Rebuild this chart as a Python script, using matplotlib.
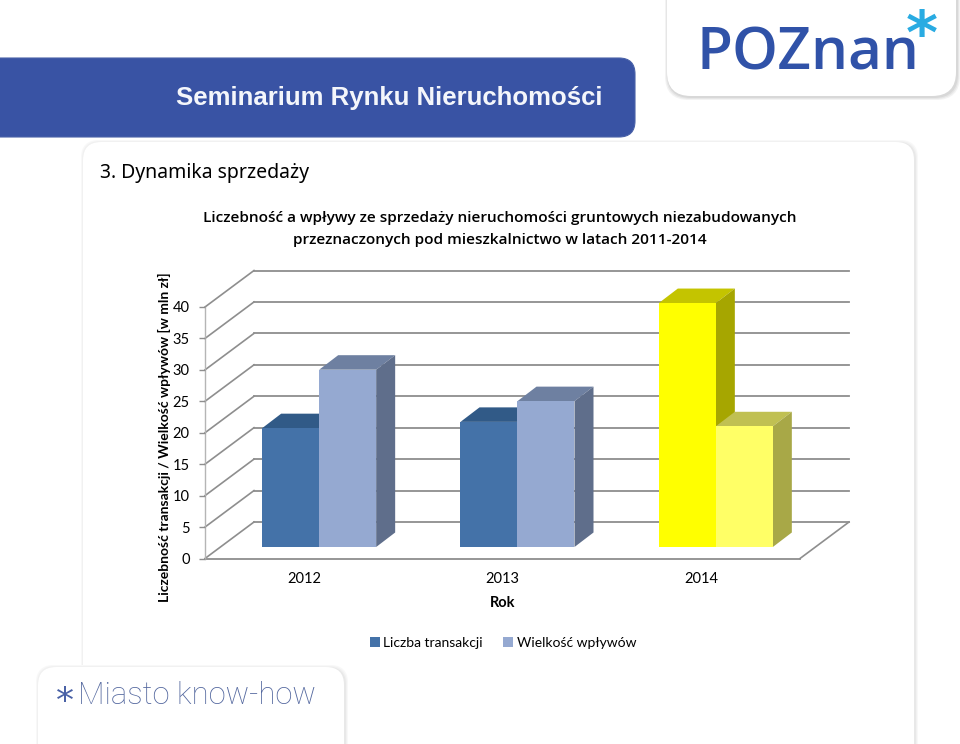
#!/usr/bin/env python3
import matplotlib
matplotlib.use("Agg")
import matplotlib.pyplot as plt
from matplotlib.patches import FancyBboxPatch, Polygon, Patch

years = ["2012", "2013", "2014"]
transakcje = [18.9, 19.9, 38.8]
wplywy = [28.2, 23.2, 19.2]
y_ticks = [0, 5, 10, 15, 20, 25, 30, 35, 40]

# face colours per year: front, top, side
trans_front = ["#4472a8", "#4472a8", "#ffff00"]
trans_top = ["#315a87", "#315a87", "#c4c400"]
trans_side = ["#36587f", "#36587f", "#a6a600"]
wpl_front = ["#95a9d1", "#95a9d1", "#ffff66"]
wpl_top = ["#6e80a1", "#6e80a1", "#c0c052"]
wpl_side = ["#5f6e8b", "#5f6e8b", "#a8a847"]

W, H = 960, 744
GRID = "#8e8e8e"
plt.rcParams["font.family"] = ["Lato", "DejaVu Sans"]

fig = plt.figure(figsize=(9.6, 7.44), dpi=100)

# background furniture, in pixel coordinates
bg = fig.add_axes([0, 0, 1, 1], zorder=0)
bg.set_xlim(0, W)
bg.set_ylim(H, 0)
bg.axis("off")


def panel(x0, y0, x1, y1, r=18, strong=False):
    # soft shadow made of a few rounded boxes, a bit heavier to the lower right
    cols = ["#f3f3f3", "#e6e6e6", "#d8d8d8"] if strong else ["#f8f8f8", "#f1f1f1", "#e8e8e8"]
    for grow, col in zip((3, 2, 1), cols):
        bg.add_patch(FancyBboxPatch((x0 - grow + 1, y0 - grow + 1), x1 - x0 + 2 * grow, y1 - y0 + 2 * grow,
                                    boxstyle=f"round,pad=0,rounding_size={r}", fc=col, ec="none"))
    bg.add_patch(FancyBboxPatch((x0, y0), x1 - x0, y1 - y0,
                                boxstyle=f"round,pad=0,rounding_size={r}", fc="white", ec="none"))


panel(83, 142, 914, 790)
panel(38, 667, 344, 790)
panel(667, -40, 956, 96, r=24, strong=True)

bg.add_patch(FancyBboxPatch((-80, 58), 715, 79, boxstyle="round,pad=0,rounding_size=16",
                            fc="#3953a4", ec="#4a62a8", lw=0.8))

bg.text(176, 98, "Seminarium Rynku Nieruchomości", color="#f4f6fb", fontsize=18.55,
        family="Liberation Sans", weight="bold", va="center", ha="left")
bg.text(100, 173, "3. Dynamika sprzedaży", color="black", fontsize=14,
        family="Noto Sans", weight="medium", va="center", ha="left")
bg.text(500, 218, "Liczebność a wpływy ze sprzedaży nieruchomości gruntowych niezabudowanych",
        color="black", fontsize=11.05, family="Open Sans", weight="semibold", va="center", ha="center")
bg.text(500, 240, "przeznaczonych pod mieszkalnictwo w latach 2011-2014",
        color="black", fontsize=11.05, family="Open Sans", weight="semibold", va="center", ha="center")
bg.text(696, 54, "POZnan", color="#3052a8", fontsize=42, family="Open Sans", weight="semibold",
        va="center", ha="left")
bg.text(922, 37.5, "*", color="#29abe2", fontsize=44, family="DejaVu Sans", weight="bold",
        va="center", ha="center")
bg.text(56, 702, "*", color="#4a62a6", fontsize=26, family="DejaVu Sans", va="center", ha="left")
bg.text(78, 695, "Miasto know-how", color="#54689f", fontsize=22.3, family="Roboto", weight="light",
        va="center", ha="left")

# chart: axes rectangle is the front plane of the 3d box
left, right, front0, front40 = 205, 800, 558.5, 307
ax = fig.add_axes([left / W, 1 - front0 / H, (right - left) / W, (front0 - front40) / H],
                  zorder=1, facecolor="none")
ax.set_xlim(-0.5, 2.5)
ax.set_ylim(0, 40)
xs = 3 / (right - left)
ys = 40 / (front0 - front40)

# depth of the box and of the bars, converted from pixels to data units
box_dx, box_dy = 49 * xs, 36.5 * ys
bar_dx, bar_dy = 19 * xs, 14.5 * ys
base = 11.5 * ys
bar_w = 57 * xs
shift = 15 * xs

for v in y_ticks:
    ax.plot([-0.5, -0.5 + box_dx], [v, v + box_dy], color=GRID, lw=1.2, clip_on=False, zorder=1)
    ax.plot([-0.5 + box_dx, 2.5 + box_dx], [v + box_dy, v + box_dy], color=GRID, lw=1.3,
            clip_on=False, zorder=1)
ax.plot([-0.5, 2.5], [0, 0], color=GRID, lw=1.3, clip_on=False, zorder=1)
ax.plot([2.5, 2.5 + box_dx], [0, box_dy], color=GRID, lw=1.2, clip_on=False, zorder=1)
ax.plot([-0.5, -0.5], [0, 40], color="#b5b5b5", lw=1, clip_on=False, zorder=1)


def bar3d(x0, val, front, top, side, z):
    ax.bar(x0, val, bar_w, bottom=base, align="edge", color=front, zorder=z + 0.2, clip_on=False)
    x1 = x0 + bar_w
    y1 = base + val
    ax.add_patch(Polygon([(x0, y1), (x1, y1), (x1 + bar_dx, y1 + bar_dy), (x0 + bar_dx, y1 + bar_dy)],
                         fc=top, ec="none", clip_on=False, zorder=z))
    ax.add_patch(Polygon([(x1, base), (x1 + bar_dx, base + bar_dy), (x1 + bar_dx, y1 + bar_dy), (x1, y1)],
                         fc=side, ec="none", clip_on=False, zorder=z))


for i in range(len(years)):
    bar3d(i + shift - bar_w, transakcje[i], trans_front[i], trans_top[i], trans_side[i], 2)
    bar3d(i + shift, wplywy[i], wpl_front[i], wpl_top[i], wpl_side[i], 3)

for s in ax.spines.values():
    s.set_visible(False)
ax.set_yticks(y_ticks)
ax.set_xticks(range(len(years)))
ax.set_xticklabels(years)
ax.tick_params(axis="y", length=4, width=1, color=GRID, labelsize=10.5, pad=7)
ax.tick_params(axis="x", length=0, labelsize=10.5, pad=10)
ax.set_xlabel("Rok", fontsize=10.5, weight="bold", labelpad=7)
ax.set_ylabel("Liczebność transakcji / Wielkość wpływów [w mln zł]", fontsize=10, weight="bold")
ax.yaxis.set_label_coords((171 - left) / (right - left), (front0 - 437) / (front0 - front40))

handles = [Patch(fc="#4472a8"), Patch(fc="#95a9d1")]
ax.legend(handles, ["Liczba transakcji", "Wielkość wpływów"], loc="center", ncol=2, frameon=False,
          bbox_to_anchor=((503 - left) / (right - left), (front0 - 643) / (front0 - front40)),
          fontsize=10, handlelength=0.72, handleheight=0.72, handletextpad=0.25, columnspacing=1.5)

fig.savefig("out.png", dpi=100)
